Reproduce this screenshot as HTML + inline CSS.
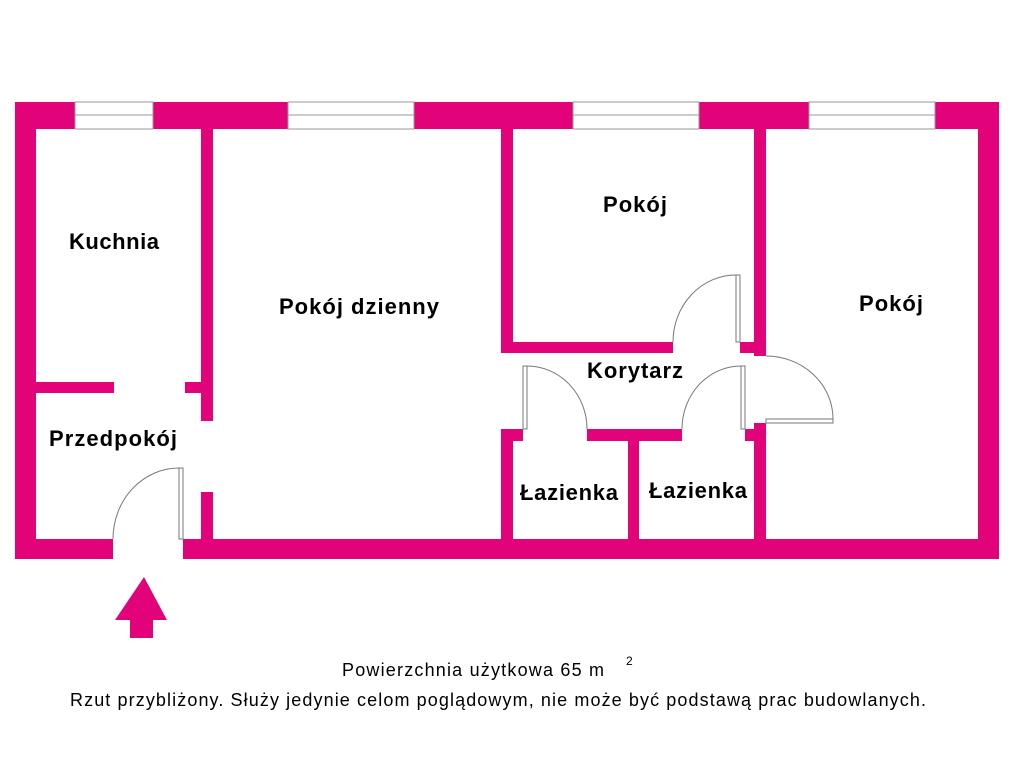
<!DOCTYPE html>
<html><head><meta charset="utf-8"><style>
html,body{margin:0;padding:0;background:#fff;}
svg{display:block}
text{font-family:"Liberation Sans",sans-serif;fill:#000}
.b{font-weight:bold;font-size:22px}
</style></head><body>
<svg width="1024" height="768" viewBox="0 0 1024 768" xmlns="http://www.w3.org/2000/svg">
<g fill="#e2037a">
<rect x="15" y="102" width="984" height="27"/>
<rect x="15" y="102" width="21" height="457"/>
<rect x="978" y="102" width="21" height="457"/>
<rect x="15" y="539" width="98" height="20"/>
<rect x="183" y="539" width="816" height="20"/>
<rect x="201" y="129" width="12" height="292"/>
<rect x="201" y="492" width="12" height="47"/>
<rect x="36" y="382" width="78" height="11"/>
<rect x="185" y="382" width="16" height="11"/>
<rect x="501" y="129" width="12" height="224"/>
<rect x="501" y="342" width="172" height="11"/>
<rect x="740" y="342" width="26" height="11"/>
<rect x="754" y="129" width="12" height="227"/>
<rect x="754" y="423" width="12" height="116"/>
<rect x="501" y="429" width="12" height="110"/>
<rect x="501" y="429" width="22" height="12"/>
<rect x="587" y="429" width="95" height="12"/>
<rect x="628" y="441" width="11" height="98"/>
<rect x="745" y="429" width="21" height="12"/>
<polygon points="144,577 115,620 130,620 130,638 153,638 153,620 167,620"/>
</g>
<g fill="#fff" stroke="#999" stroke-width="1">
<rect x="75" y="102" width="78" height="27"/>
<rect x="288" y="102" width="126" height="27"/>
<rect x="573" y="102" width="126" height="27"/>
<rect x="809" y="102" width="126" height="27"/>
</g>
<g stroke="#999" stroke-width="1">
<line x1="75" y1="115" x2="153" y2="115"/>
<line x1="288" y1="115" x2="414" y2="115"/>
<line x1="573" y1="115" x2="699" y2="115"/>
<line x1="809" y1="115" x2="935" y2="115"/>
</g>
<g fill="#fff" stroke="#777" stroke-width="1">
<rect x="179" y="468" width="4" height="71"/>
<path d="M113,539 A66,71 0 0 1 179,468" fill="none"/>
<rect x="736" y="275" width="4" height="67"/>
<path d="M673,342 A63,67 0 0 1 736,275" fill="none"/>
<rect x="766" y="419" width="67" height="4"/>
<path d="M766,356 A67,63 0 0 1 833,419" fill="none"/>
<rect x="523" y="366" width="4" height="63"/>
<path d="M527,366 A60,63 0 0 1 587,429" fill="none"/>
<rect x="741" y="366" width="4" height="63"/>
<path d="M682,429 A59,63 0 0 1 741,366" fill="none"/>
</g>
<text class="b" x="114" y="249" text-anchor="middle" textLength="90">Kuchnia</text>
<text class="b" x="359" y="314" text-anchor="middle" textLength="160">Pokój dzienny</text>
<text class="b" x="635" y="212" text-anchor="middle" textLength="64">Pokój</text>
<text class="b" x="891" y="311" text-anchor="middle" textLength="64">Pokój</text>
<text class="b" x="635" y="378" text-anchor="middle" textLength="96">Korytarz</text>
<text class="b" x="113" y="446" text-anchor="middle" textLength="128">Przedpokój</text>
<text class="b" x="569" y="500" text-anchor="middle" textLength="98">Łazienka</text>
<text class="b" x="698" y="498" text-anchor="middle" textLength="98">Łazienka</text>
<text x="342" y="676" font-size="18" textLength="262">Powierzchnia użytkowa 65 m</text>
<text x="626" y="665" font-size="12">2</text>
<text x="70" y="706" font-size="18" textLength="856">Rzut przybliżony. Służy jedynie celom poglądowym, nie może być podstawą prac budowlanych.</text>
</svg>
</body></html>
